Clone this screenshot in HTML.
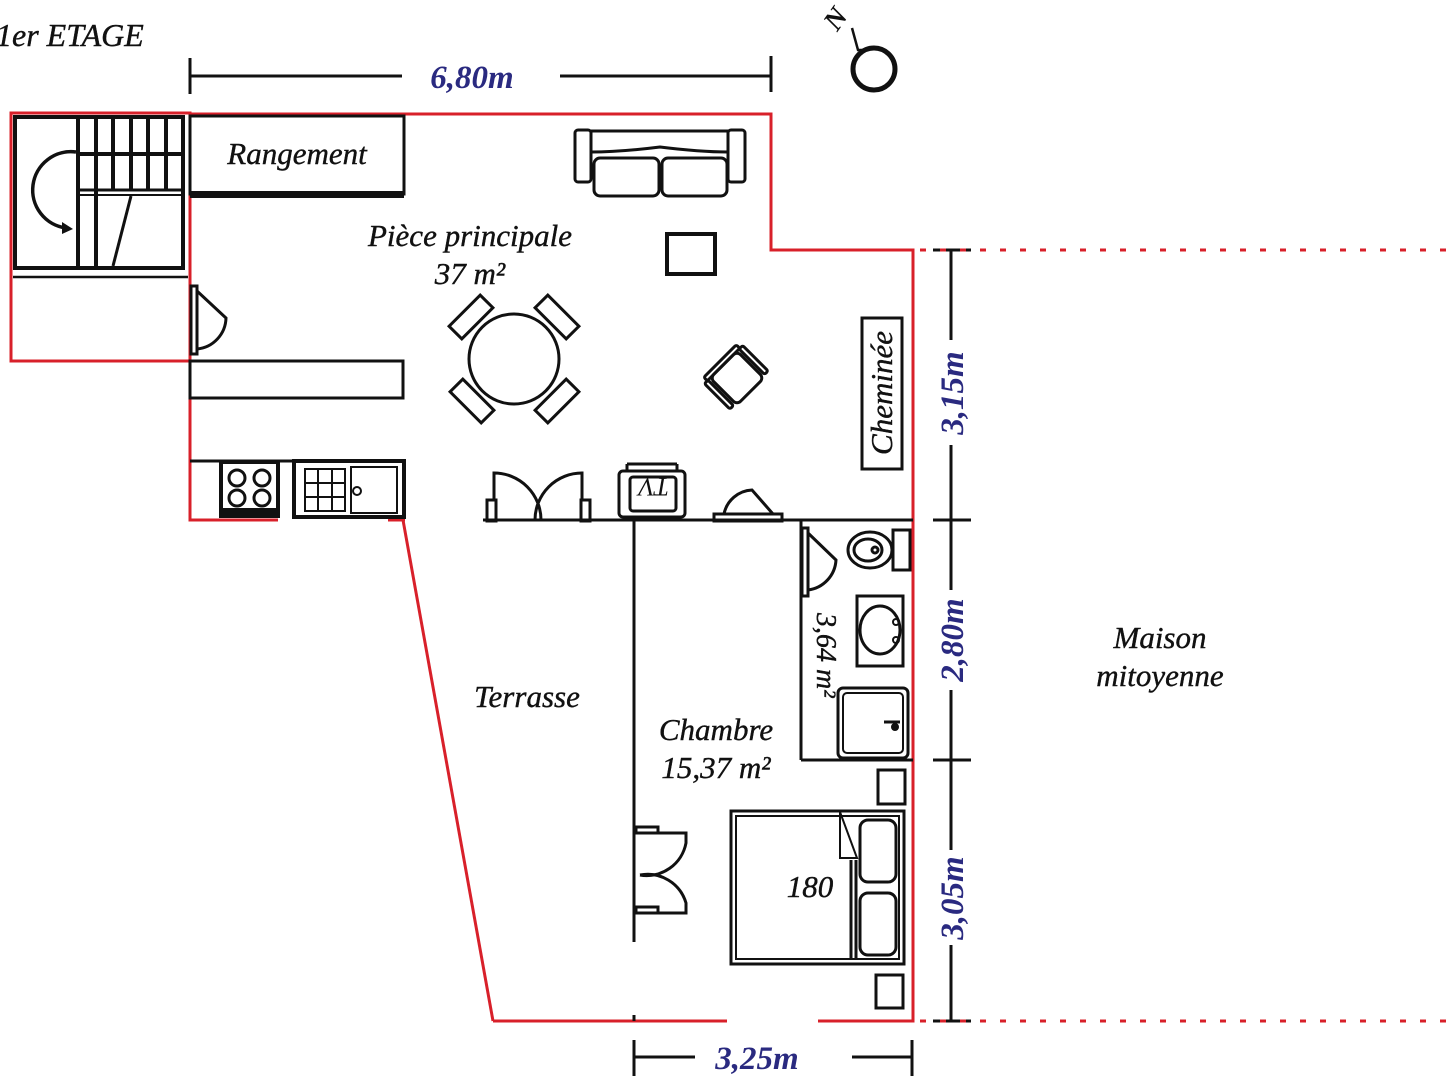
<!DOCTYPE html>
<html><head><meta charset="utf-8"><style>
html,body{margin:0;padding:0;background:#fff;}
svg{display:block}
text{font-family:"Liberation Serif",serif;font-style:italic;}
</style></head><body>
<svg width="1447" height="1080" viewBox="0 0 1447 1080" xmlns="http://www.w3.org/2000/svg">
<rect width="1447" height="1080" fill="#fff"/>
<!-- title -->
<text x="-4" y="46" font-size="32" fill="#111" stroke="#111" stroke-width="0.4">1er ETAGE</text>
<!-- dimension lines -->
<g stroke="#111" stroke-width="3" fill="none">
<line x1="190" y1="76" x2="402" y2="76"/><line x1="560" y1="76" x2="771" y2="76"/>
<line x1="190" y1="58" x2="190" y2="94"/><line x1="771" y1="56" x2="771" y2="92"/>
<line x1="951" y1="250" x2="951" y2="340"/><line x1="951" y1="445" x2="951" y2="590"/>
<line x1="951" y1="690" x2="951" y2="850"/><line x1="951" y1="945" x2="951" y2="1021"/>
<line x1="933" y1="250" x2="971" y2="250"/><line x1="933" y1="520" x2="971" y2="520"/>
<line x1="933" y1="760" x2="971" y2="760"/><line x1="933" y1="1021" x2="971" y2="1021"/>
<line x1="634" y1="1057" x2="695" y2="1057"/><line x1="852" y1="1057" x2="912" y2="1057"/>
<line x1="634" y1="1040" x2="634" y2="1076"/><line x1="912" y1="1040" x2="912" y2="1076"/>
</g>
<g fill="#2a2a80" font-weight="bold" font-size="33">
<text x="472" y="88" text-anchor="middle">6,80m</text>
<text x="757" y="1069" text-anchor="middle">3,25m</text>
<text transform="translate(963,393) rotate(-90)" text-anchor="middle">3,15m</text>
<text transform="translate(963,640) rotate(-90)" text-anchor="middle">2,80m</text>
<text transform="translate(963,898) rotate(-90)" text-anchor="middle">3,05m</text>
</g>
<!-- compass -->
<g stroke="#111" fill="none">
<circle cx="874" cy="69" r="21" stroke-width="5"/>
<path d="M852 28 L858 50 L868 50" stroke-width="2.5"/>
</g>
<text transform="translate(843,24) rotate(-55)" font-size="28" font-weight="bold" font-style="normal" fill="#111" text-anchor="middle">N</text>
<!-- red exterior walls -->
<g stroke="#d8202a" stroke-width="3" fill="none">
<rect x="11" y="113" width="179" height="248"/>
<polyline points="190,114 771,114 771,250 913,250 913,1021 818,1021"/>
<line x1="727" y1="1021" x2="493" y2="1021"/>
<line x1="493" y1="1021" x2="403" y2="520"/>
<polyline points="190,114 190,520 278,520"/>
<line x1="388" y1="520" x2="405" y2="520"/>
</g>
<g stroke="#d8202a" stroke-width="3" stroke-dasharray="6,14" fill="none">
<line x1="920" y1="250" x2="1447" y2="250"/>
<line x1="920" y1="1021" x2="1447" y2="1021"/>
</g>
<!-- interior black walls -->
<g stroke="#111" stroke-width="3" fill="none">
<line x1="483" y1="520" x2="913" y2="520"/>
<line x1="634" y1="520" x2="634" y2="942"/>
<line x1="634" y1="1015" x2="634" y2="1021"/>
<line x1="801" y1="520" x2="801" y2="760"/>
<line x1="801" y1="760" x2="913" y2="760"/>
</g>
<!-- stairs -->
<g stroke="#111" fill="none" stroke-width="4">
<rect x="15" y="117" width="168" height="151"/>
<line x1="78" y1="117" x2="78" y2="268"/><line x1="96" y1="117" x2="96" y2="268"/>
<line x1="113" y1="117" x2="113" y2="190"/><line x1="131" y1="117" x2="131" y2="190"/>
<line x1="148" y1="117" x2="148" y2="190"/><line x1="166" y1="117" x2="166" y2="190"/>
<line x1="78" y1="154" x2="183" y2="154"/>
<line x1="78" y1="190" x2="183" y2="190" stroke-width="3"/><line x1="78" y1="195" x2="183" y2="195" stroke-width="2"/>
<line x1="131" y1="196" x2="113" y2="266" stroke-width="3"/>
<line x1="13" y1="277" x2="188" y2="277" stroke-width="2.5"/>
<path d="M76 152 A38 38 0 0 0 66 228" stroke-width="3.5"/>
</g>
<path d="M62 222 L73 229 L62 234 Z" fill="#111"/>
<!-- rangement -->
<g stroke="#111" fill="none" stroke-width="3">
<rect x="190" y="116" width="214" height="78"/>
</g>
<rect x="190" y="191" width="214" height="7" fill="#111"/>
<text x="297" y="164" font-size="31" text-anchor="middle" fill="#111" stroke="#111" stroke-width="0.4">Rangement</text>
<!-- door left -->
<g stroke="#111" fill="none" stroke-width="3">
<rect x="191" y="286" width="6" height="68"/>
<path d="M197 291 L226 318 A32 32 0 0 1 197 349"/>
</g>
<!-- counter -->
<rect x="190" y="361" width="213" height="37" fill="none" stroke="#111" stroke-width="3"/>
<!-- kitchen -->
<g stroke="#111" fill="none" stroke-width="3">
<line x1="190" y1="461" x2="404" y2="461"/>
<rect x="221" y="462" width="57" height="54" stroke-width="4"/>
<circle cx="237" cy="478" r="8"/><circle cx="262" cy="478" r="8"/>
<circle cx="237" cy="498" r="8"/><circle cx="262" cy="498" r="8"/>
<rect x="294" y="461" width="110" height="56" stroke-width="4"/>
<rect x="305" y="469" width="40" height="42" stroke-width="2"/>
<line x1="318" y1="469" x2="318" y2="511" stroke-width="2"/><line x1="332" y1="469" x2="332" y2="511" stroke-width="2"/>
<line x1="305" y1="483" x2="345" y2="483" stroke-width="2"/><line x1="305" y1="497" x2="345" y2="497" stroke-width="2"/>
<rect x="351" y="467" width="46" height="46" stroke-width="2"/>
<circle cx="357" cy="491" r="4" stroke-width="2"/>
</g>
<rect x="221" y="508" width="57" height="9" fill="#111"/>
<!-- room labels -->
<g fill="#111" font-size="31" stroke="#111" stroke-width="0.4">
<text x="470" y="246" text-anchor="middle">Pièce principale</text>
<text x="470" y="284" text-anchor="middle">37 m²</text>
<text x="527" y="707" text-anchor="middle">Terrasse</text>
<text x="716" y="740" text-anchor="middle">Chambre</text>
<text x="716" y="778" text-anchor="middle">15,37 m²</text>
<text x="1160" y="648" text-anchor="middle">Maison</text>
<text x="1160" y="686" text-anchor="middle">mitoyenne</text>
<text x="810" y="897" text-anchor="middle">180</text>
<text transform="translate(817,613) rotate(90)" font-size="28">3,64 m²</text>
</g>
<!-- sofa -->
<g stroke="#111" fill="none" stroke-width="3">
<rect x="575" y="130" width="16" height="52" rx="3"/>
<rect x="728" y="130" width="17" height="52" rx="3"/>
<path d="M591 131 L728 131 L728 152 Q700 152 660 147 Q620 152 591 152 Z"/>
<rect x="594" y="158" width="65" height="38" rx="6"/>
<rect x="662" y="158" width="65" height="38" rx="6"/>
<rect x="667" y="234" width="48" height="40" stroke-width="4"/>
</g>
<!-- table -->
<g stroke="#111" fill="none" stroke-width="3">
<circle cx="514" cy="359" r="45"/>
<rect x="-22" y="-9" width="44" height="18" transform="translate(471,317) rotate(-45)"/>
<rect x="-22" y="-9" width="44" height="18" transform="translate(557,317) rotate(45)"/>
<rect x="-22" y="-9" width="44" height="18" transform="translate(472,401) rotate(45)"/>
<rect x="-22" y="-9" width="44" height="18" transform="translate(557,401) rotate(-45)"/>
</g>
<!-- armchair -->
<g stroke="#111" fill="none" stroke-width="3" transform="translate(737,378) rotate(-45)">
<rect x="-19" y="-19" width="38" height="38" rx="5"/>
<rect x="-23" y="-24" width="46" height="5" rx="2"/>
<rect x="-27" y="-19" width="5" height="36" rx="2"/>
<rect x="22" y="-19" width="5" height="36" rx="2"/>
</g>
<!-- cheminee -->
<rect x="862" y="318" width="40" height="151" fill="none" stroke="#111" stroke-width="3"/>
<text transform="translate(892,393) rotate(-90)" font-size="31" text-anchor="middle" fill="#111" stroke="#111" stroke-width="0.4">Cheminée</text>
<!-- double door -->
<g stroke="#111" fill="none" stroke-width="3">
<rect x="487" y="500" width="9" height="21"/><rect x="581" y="500" width="9" height="21"/>
<path d="M494 500 L494 473 A47 47 0 0 1 541 520"/>
<path d="M582 500 L582 473 A47 47 0 0 0 535 520"/>
</g>
<!-- TV -->
<g stroke="#111" fill="none" stroke-width="3">
<rect x="619" y="471" width="66" height="46" rx="4"/>
<rect x="630" y="477" width="46" height="34" rx="3"/>
<line x1="627" y1="464" x2="677" y2="464"/>
<line x1="627" y1="464" x2="627" y2="471"/><line x1="677" y1="464" x2="677" y2="471"/>
</g>
<text transform="translate(654,484) rotate(180)" font-size="26" text-anchor="middle" fill="#111" dominant-baseline="middle">TV</text>
<!-- small door -->
<g stroke="#111" fill="none" stroke-width="3">
<rect x="714" y="514" width="68" height="7"/>
<path d="M724 514 A30 30 0 0 1 752 490 L773 514"/>
</g>
<!-- bathroom -->
<g stroke="#111" fill="none" stroke-width="3">
<rect x="802" y="528" width="6" height="68"/>
<path d="M808 533 L836 560 A32 32 0 0 1 808 590"/>
<rect x="893" y="530" width="17" height="40"/>
<ellipse cx="870" cy="550" rx="22" ry="18"/>
<ellipse cx="868" cy="550" rx="14" ry="11"/>
<circle cx="875" cy="550" r="3"/>
<rect x="857" y="596" width="46" height="70"/>
<ellipse cx="880" cy="630" rx="20" ry="24"/>
<circle cx="896" cy="622" r="3" stroke-width="2"/><circle cx="896" cy="640" r="3" stroke-width="2"/>
<rect x="838" y="688" width="70" height="70" rx="5"/>
<rect x="843" y="693" width="60" height="60" rx="4" stroke-width="2"/>
<line x1="884" y1="722" x2="900" y2="722"/>
</g>
<circle cx="895" cy="727" r="4" fill="#111"/>
<!-- wardrobe door in chambre -->
<g stroke="#111" fill="none" stroke-width="3">
<rect x="636" y="827" width="22" height="6"/><rect x="636" y="907" width="22" height="6"/>
<path d="M658 833 L686 833 L686 843 A40 40 0 0 1 640 875"/>
<path d="M658 913 L686 913 L686 903 A40 40 0 0 0 640 875"/>
</g>
<!-- bed -->
<g stroke="#111" fill="none" stroke-width="3">
<rect x="731" y="811" width="173" height="153"/>
<rect x="736" y="816" width="163" height="143" stroke-width="2"/>
<line x1="851" y1="860" x2="851" y2="959"/><line x1="856" y1="860" x2="856" y2="959"/>
<path d="M840 812 L840 858 L857 858 Z" stroke-width="2"/>
<rect x="860" y="820" width="36" height="62" rx="8"/>
<rect x="860" y="893" width="36" height="62" rx="8"/>
<rect x="878" y="770" width="27" height="34"/>
<rect x="876" y="975" width="27" height="33"/>
</g>
</svg>
</body></html>
